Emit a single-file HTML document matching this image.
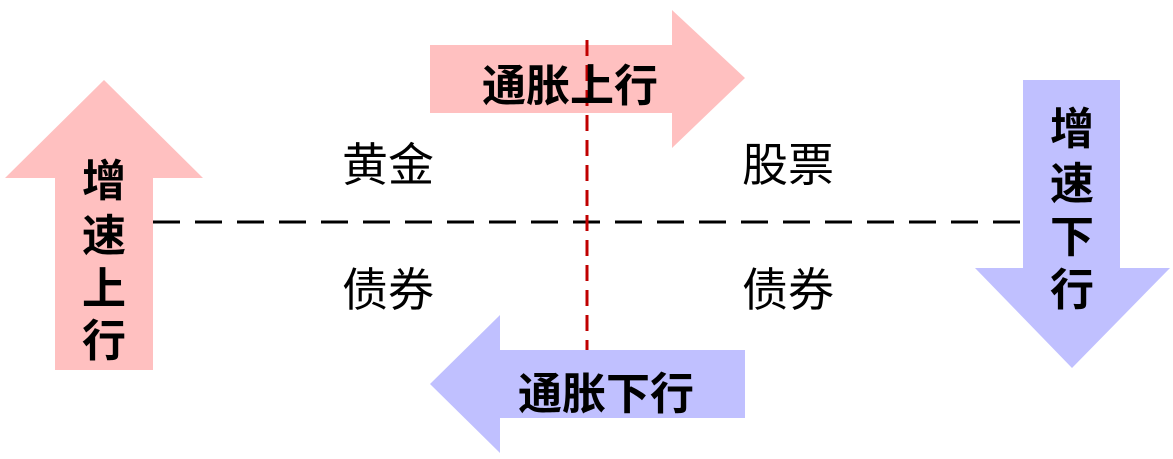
<!DOCTYPE html>
<html><head><meta charset="utf-8"><style>
html,body{margin:0;padding:0;background:#fff;}
svg{display:block;}
text{font-family:"Liberation Sans","Noto Sans CJK SC",sans-serif;}
</style></head><body>
<svg width="1173" height="459" viewBox="0 0 1173 459" xmlns="http://www.w3.org/2000/svg">
<polygon points="55,370 153,370 153,178 203,178 104,80 5,178 55,178" fill="#FFC0C0"/>
<polygon points="430,45 672,45 672,10 745,78 672,148 672,113 430,113" fill="#FFC0C0"/>
<polygon points="1023,80 1120,80 1120,268 1170,268 1072,368 975,268 1023,268" fill="#C0C0FF"/>
<polygon points="745,350 500,350 500,315 430,384 500,453 500,418 745,418" fill="#C0C0FF"/>
<line x1="153" y1="222" x2="1023" y2="222" stroke="#000" stroke-width="3" stroke-dasharray="27,15"/>
<line x1="587" y1="40" x2="587" y2="350" stroke="#C00000" stroke-width="3" stroke-dasharray="16,9"/>
<g font-size="46" text-anchor="middle">
<text x="388" y="181">黄金</text>
<text x="788" y="181">股票</text>
<text x="388" y="306">债券</text>
<text x="788" y="306">债券</text>
</g>
<g font-size="44" font-weight="bold" text-anchor="middle">
<text x="570" y="101">通胀上行</text>
<text x="606" y="409">通胀下行</text>
<text x="104" y="196">增</text>
<text x="104" y="251">速</text>
<text x="104" y="304">上</text>
<text x="104" y="356">行</text>
<text x="1072" y="144">增</text>
<text x="1072" y="199">速</text>
<text x="1072" y="252">下</text>
<text x="1072" y="305">行</text>
</g>
</svg>
</body></html>
